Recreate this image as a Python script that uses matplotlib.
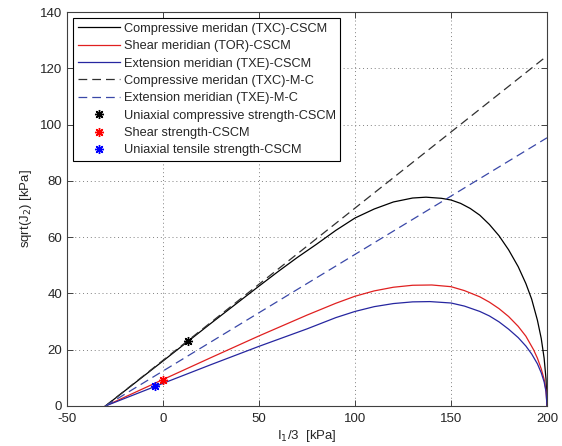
import numpy as np
import matplotlib
matplotlib.use("Agg")
import matplotlib.pyplot as plt

# values (kPa)
x_txc = [-30, 0, 25, 50, 60, 70, 80, 90, 100, 110, 120, 130, 137, 145, 150, 155, 160,
         165, 170, 175, 180, 185, 189, 192, 195, 197, 198.5, 199.5, 200]
y_txc = [0, 16.0, 29.4, 42.6, 47.8, 52.8, 57.5, 62.4, 66.8, 70.0, 72.5, 73.9, 74.2, 73.8, 73.2, 72.0, 70.2,
         67.8, 64.5, 60.5, 55.5, 49.5, 43.5, 38.0, 30.5, 24.0, 17.0, 9.5, 0]

x_tor = [-30, 0, 25, 50, 75, 90, 100, 110, 120, 130, 140, 150, 157, 165, 170, 175, 180,
         185, 189, 193, 195, 197, 198.5, 199.5, 200]
y_tor = [0, 9.4, 17.2, 24.9, 32.3, 36.5, 39.0, 40.9, 42.2, 42.9, 43.0, 42.4, 41.0, 38.8, 36.9, 34.6, 31.8,
         28.3, 24.8, 20.0, 17.0, 13.2, 9.5, 5.5, 0]

x_txe = [-30, 0, 25, 50, 75, 90, 100, 110, 120, 130, 139, 150, 157, 165, 170, 175, 180,
         185, 189, 192, 195, 197, 198.5, 199.5, 200]
y_txe = [0, 8.05, 14.7, 21.2, 27.4, 31.4, 33.6, 35.3, 36.4, 37.0, 37.1, 36.6, 35.5, 33.6, 32.0, 29.9, 27.3,
         24.3, 21.3, 18.5, 15.0, 11.8, 8.6, 5.0, 0]

x_mc = [-30, 200]
y_mc_txc = [0, 124.4]
y_mc_txe = [0, 95.3]

uc_strength = (13, 23)
shear_strength = (0, 9.2)
ut_strength = (-4, 7.1)

labels = [
    "Compressive meridan (TXC)-CSCM",
    "Shear meridian (TOR)-CSCM",
    "Extension meridian (TXE)-CSCM",
    "Compressive meridan (TXC)-M-C",
    "Extension meridian (TXE)-M-C",
    "Uniaxial compressive strength-CSCM",
    "Shear strength-CSCM",
    "Uniaxial tensile strength-CSCM",
]

plt.rcParams["font.family"] = ["Liberation Sans", "DejaVu Sans"]
plt.rcParams["axes.unicode_minus"] = False
plt.rcParams["text.color"] = "#262626"
plt.rcParams["axes.labelcolor"] = "#262626"
plt.rcParams["xtick.color"] = "#404040"
plt.rcParams["ytick.color"] = "#404040"
plt.rcParams["xtick.labelcolor"] = "#262626"
plt.rcParams["ytick.labelcolor"] = "#262626"

fig = plt.figure(figsize=(5.62, 4.46), dpi=100)
ax = fig.add_axes([67 / 562, 40 / 446, 480 / 562, 394 / 446])

lw = 0.9
blue = "#2626a0"
ax.plot(x_txc, y_txc, color="black", lw=lw, label=labels[0])
ax.plot(x_tor, y_tor, color="#e02020", lw=lw, label=labels[1])
ax.plot(x_txe, y_txe, color=blue, lw=lw, label=labels[2])
ax.plot(x_mc, y_mc_txc, color="#303030", lw=lw, ls=(0, (7, 4)), label=labels[3])
ax.plot(x_mc, y_mc_txe, color="#3a48a8", lw=lw, ls=(0, (7, 4)), label=labels[4])

star = (8, 2, 0)
ax.plot(*uc_strength, ls="none", marker=star, ms=6.5, mec="black", mew=1.0, label=labels[5])
ax.plot(*shear_strength, ls="none", marker=star, ms=6.5, mec="red", mew=1.0, label=labels[6])
ax.plot(*ut_strength, ls="none", marker=star, ms=6.5, mec="blue", mew=1.0, label=labels[7])

ax.set_xlim(-50, 200)
ax.set_ylim(0, 140)
ax.set_xticks(np.arange(-50, 201, 50))
ax.set_yticks(np.arange(0, 141, 20))
ax.grid(True, ls=(0, (1, 3)), color="#808080", lw=0.7)
ax.tick_params(direction="in", top=True, right=True, length=4, width=0.7, labelsize=9.5)
ax.tick_params(axis="x", pad=5)
for s in ax.spines.values():
    s.set_color("#404040")
    s.set_linewidth(0.8)

ax.set_xlabel("I$_1$/3  [kPa]", fontsize=9.5, labelpad=2)
ax.set_ylabel("sqrt(J$_2$) [kPa]", fontsize=9.5, labelpad=4)

leg = ax.legend(loc="upper left", fontsize=9.2, frameon=True, fancybox=False,
                edgecolor="black", framealpha=1, handlelength=3.3, handletextpad=0.3,
                labelspacing=0.42, borderaxespad=0.5, borderpad=0.35, numpoints=1)
leg.get_frame().set_linewidth(0.8)

fig.savefig("out.png", dpi=100)
plt.close(fig)
